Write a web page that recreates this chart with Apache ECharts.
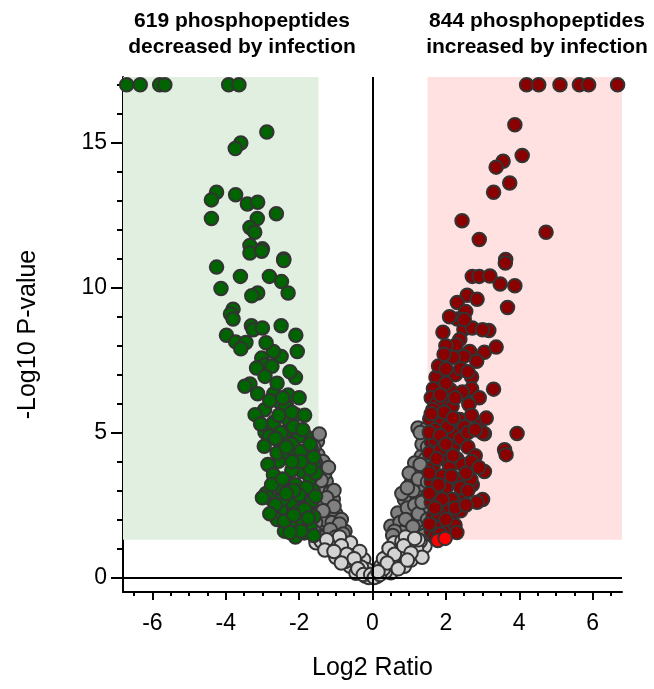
<!DOCTYPE html>
<html>
<head>
<meta charset="utf-8">
<script src="https://cdn.jsdelivr.net/npm/echarts@6/dist/echarts.min.js"></script>
<style>html,body{margin:0;padding:0;background:#fff;}#c{width:654px;height:689px;}</style>
</head>
<body>
<div id="c"></div>
<script>
const titleLeft = '619 phosphopeptides\ndecreased by infection';
const titleRight = '844 phosphopeptides\nincreased by infection';
const xTicks = [-6, -4, -2, 0, 2, 4, 6];
const xMinorTicks = [-6.5,-6,-5.5,-5,-4.5,-4,-3.5,-3,-2.5,-2,-1.5,-1,-0.5,0,0.5,1,1.5,2,2.5,3,3.5,4,4.5,5,5.5,6,6.5];
const yTicks = [0, 5, 10, 15];
const yMinorTicks = [0,1,2,3,4,5,6,7,8,9,10,11,12,13,14,15,16,17];
const xRange = [-6.8, 6.8];
const yRange = [-0.5, 17.27];
const pThreshold = 1.3;
const ratioDown = -1.47;
const ratioUp = 1.5;

const greenPoints = [
[-6.70,17],[-6.33,17],[-5.80,17],[-5.66,17],[-3.92,17],[-3.64,17],
[-2.88,15.37],[-3.59,14.99],[-3.74,14.80],[-4.25,13.29],[-4.39,13.03],[-3.73,13.21],[-3.41,12.89],[-3.13,12.95],
[-4.39,12.39],[-3.14,12.39],[-2.62,12.55],[-3.34,12.08],[-3.21,11.91],[-3.34,11.46],[-3.0,11.34],[-3.34,11.2],
[-2.42,10.99],[-3.02,11.26],[-2.42,10.94],[-4.25,10.71],[-3.60,10.39],[-2.81,10.39],[-2.48,10.21],[-4.13,9.97],
[-3.13,9.82],[-3.29,9.72],[-2.30,9.82],[-3.80,9.26],[-3.87,9.09],[-3.80,8.92],[-3.30,8.69],[-3.25,8.55],[-3.0,8.61],
[-2.49,8.69],[-2.09,8.36],[-3.98,8.36],[-3.73,8.13],[-3.45,8.11],[-3.59,7.89],[-2.05,7.80],[-2.49,7.63],[-3.02,7.57],
[-2.93,7.34],[-2.74,7.29],[-3.16,7.23],[-2.93,6.94],[-3.34,6.68],[-3.48,6.60],[-3.13,6.34],[-2.69,6.34],[-2.56,6.08],
[-2.35,5.94],[-2.94,5.79],[-3.20,5.62],[-2.09,5.62],[-2.69,5.36],[-2.30,5.45],[-2.93,5.01],[-2.37,5.01],[-2.03,4.93],
[-1.81,4.87],[-2.81,4.87],[-2.42,4.70],[-2.95,4.53],[-1.67,4.44],
[-2.69,5.33],[-2.37,5.91],[-2.0,4.87],[-2.56,4.01],[-2.05,4.01],[-1.91,3.66],[-2.37,3.38],[-2.74,2.69],[-2.32,2.17],
[-1.91,2.80],[-2.05,1.71],[-1.86,1.54],
[-2.2,4.6],[-1.75,4.2],[-1.6,3.9],[-2.6,4.3],[-2.85,3.9],[-2.2,3.7],[-1.7,3.4],[-2.5,3.1],[-2.1,3.2],[-1.62,3.0],
[-2.9,2.9],[-2.2,2.6],[-1.75,2.5],[-2.5,2.3],[-2.0,2.3],[-1.6,2.1],[-2.25,1.9],[-1.7,1.75],[-2.4,1.6],[-1.6,1.45],
[-2.1,1.4],[-1.9,1.95],[-2.6,2.0],[-3.0,2.75],[-1.8,3.1],[-2.3,4.3],[-1.95,4.35],[-2.7,3.55],[-2.0,2.85],[-1.65,2.65],
[-2.15,5.2],[-2.55,5.6],[-2.8,6.1],[-2.6,6.7],[-2.3,6.3],[-2.1,6.9],[-2.7,7.8],[-2.9,8.1],[-2.25,7.1],
[-2.45,2.7],[-2.75,3.2],[-2.15,3.0],[-1.85,2.35],[-2.35,2.9],[-1.55,2.8],[-1.55,3.6],[-1.7,4.6],[-1.9,5.1],[-2.5,5.0],
[-2.2,5.7],[-2.45,6.2],[-2.0,6.2],[-1.85,5.6],[-2.65,4.8],[-3.05,5.3],[-2.4,1.95],[-1.95,1.6],[-2.25,1.55],[-1.75,2.05],
[-2.15,2.15],[-2.65,2.5],[-2.8,2.2],[-1.7,3.75],[-1.95,4.0],[-2.45,3.4],[-2.2,4.0],[-2.35,4.5],[-1.6,4.15]
];

const redPoints = [
[4.20,17],[4.53,17],[5.11,17],[5.64,17],[5.89,17],[6.68,17],
[3.88,15.62],[4.08,14.56],[3.56,14.36],[3.37,14.16],[3.74,13.61],[3.30,13.29],[2.44,12.31],[4.73,11.91],[2.91,11.66],
[3.63,10.97],[3.62,10.85],[2.72,10.39],[2.91,10.39],[3.48,10.13],[3.88,10.07],[2.58,9.74],[2.31,9.49],[2.54,9.18],
[3.68,9.32],[2.31,8.92],[2.49,8.57],[2.72,8.61],[3.17,8.52],[3.0,8.55],[1.92,8.46],[2.38,8.21],[2.28,8.03],[2.65,7.80],
[3.05,7.77],[3.37,7.95],[2.49,7.63],[2.84,7.46],[1.73,6.91],[2.26,7.0],[2.70,6.92],[1.66,6.51],[2.12,6.48],[2.70,6.51],
[2.91,6.20],[2.01,6.08],[2.63,6.0],[1.56,5.47],[2.38,5.45],[2.91,5.31],[1.89,5.33],[2.19,4.99],[3.05,4.96],[3.94,4.97],
[1.61,4.67],[3.60,4.41],[3.64,4.24],[3.0,2.69],[2.72,3.2],[2.3,4.1],[2.17,5.91],[2.63,5.97],[3.0,4.99],[3.05,3.66],
[2.68,3.38],[2.35,2.69],[2.17,2.11],[1.89,1.77],[1.98,4.07],[1.70,4.76],[2.21,4.53],[2.35,5.45],
[1.6,6.2],[1.75,6.0],[2.0,6.7],[2.45,6.4],[1.65,5.8],[1.95,5.7],[2.5,5.2],[2.7,5.6],[1.7,5.1],[2.05,5.2],[2.4,4.8],
[2.6,4.5],[1.55,4.3],[1.85,4.4],[2.1,3.8],[2.45,3.9],[1.65,3.8],[1.9,3.5],[2.3,3.4],[1.6,3.3],[2.0,3.1],[2.5,2.9],
[1.75,2.9],[2.15,2.7],[1.6,2.6],[1.95,2.4],[1.65,2.1],[2.4,2.3],[1.8,2.2],[1.6,1.6],[2.05,1.6],[2.25,1.8],[1.7,1.4],
[2.8,4.2],[2.55,3.6],[2.85,2.6],[3.1,5.5],[1.8,7.3],[2.2,7.6],[2.0,8.0],[2.5,8.9],[2.1,9.0],[2.85,9.6],[3.2,10.4],
[1.55,5.0],[1.85,4.9],[2.0,4.6],[1.75,4.1],[2.2,4.2],[1.55,3.6],[1.8,3.2],[2.15,3.5],[2.4,3.1],[1.55,2.9],[1.9,2.7],
[2.25,2.4],[1.7,2.4],[2.0,2.0],[1.55,1.85],[1.85,1.5],[2.3,1.55],[2.55,2.5],[2.6,3.0],[2.7,4.0],[2.9,3.8],[2.6,5.0],
[2.8,5.1],[1.6,5.65],[1.85,6.3],[2.25,6.2],[2.0,7.2],[2.4,7.2],[1.95,7.7],[2.6,7.1],[3.3,6.5],[2.2,5.5]
];

const grayPoints = [
[-1.49,4.24],[-1.44,3.72],[-1.26,3.32],[-1.49,2.80],[-1.07,2.69],[-1.17,2.11],[-0.89,1.71],[-1.54,2.34],[-0.75,1.60],
[-1.40,1.77],[-1.5,4.7],[-1.35,3.0],[-1.2,2.5],[-1.0,2.2],[-1.3,2.0],[-1.55,3.3],[-1.1,1.9],[-0.95,1.45],[-1.25,1.5],
[-1.45,1.4],[-1.35,4.0],[-1.15,2.95],[-1.4,2.5],[-0.85,2.0],[-1.55,1.9],[-1.3,3.6],[-1.05,3.0],
[-1.6,4.5],[-1.45,4.95],[-1.55,3.95],[-1.4,3.35],[-1.2,3.8],[-1.25,2.75],[-1.05,2.45],[-0.9,1.85],[-1.15,1.65],
[-1.35,2.3],[-0.8,1.5],[-1.0,1.4],[-1.6,1.6],
[1.24,5.16],[1.33,4.18],[1.15,3.95],[1.43,3.49],[1.06,3.27],[0.87,2.69],[1.24,2.80],[0.69,2.23],[1.06,2.11],
[1.43,2.46],[0.87,1.66],[1.33,1.77],[0.5,1.77],[1.47,5.13],[1.35,4.6],[1.2,3.6],[1.45,4.1],[0.95,2.4],[1.15,2.5],
[0.75,1.9],[1.25,2.2],[1.0,1.6],[0.65,1.5],[1.4,3.0],[1.3,3.2],[1.1,3.0],[1.45,1.6],[1.2,1.45],[0.8,2.9],[1.0,3.6],
[1.3,5.0],[1.5,4.5],[1.4,3.8],[1.25,3.4],[1.5,2.8],[1.35,2.6],[0.9,2.0],[0.8,1.55],[0.6,1.6],[1.1,1.75],[1.5,2.0],
[1.4,1.45],[0.95,3.1],[1.3,3.9],[1.5,3.3],[0.55,1.45]
];

const lightGrayPoints = [
[-1.54,1.2],[-1.26,1.08],[-0.89,0.74],[-0.61,0.39],[-0.33,0.16],[-1.07,1.2],[-0.70,1.08],[-0.24,0.62],[-0.52,0.85],
[-0.15,0.28],[-1.4,1.25],[-1.15,0.95],[-0.95,1.25],[-0.8,0.9],[-0.6,1.2],[-0.45,0.5],[-0.75,0.55],[-1.0,0.7],
[-0.35,0.9],[-0.2,0.05],[-0.1,0.0],[-0.45,0.15],[-0.6,0.7],[-0.3,0.35],[-0.9,1.4],
[-1.25,1.3],[-1.3,0.95],[-0.85,1.1],[-0.7,0.8],[-0.5,0.65],[-0.4,0.3],[-0.85,0.5],[-1.05,0.9],[-0.25,0.1],[-0.05,0.1],
[0.22,0.39],[0.41,0.74],[0.69,1.08],[0.96,0.97],[1.24,0.85],[0.87,0.39],[0.5,0.16],[0.13,0.04],[1.43,1.08],[0.59,1.2],
[0.3,0.65],[0.45,1.0],[0.8,1.25],[1.1,1.2],[1.3,1.25],[0.65,0.55],[1.05,0.6],[0.35,0.2],[0.05,0.0],[0.2,0.1],
[0.75,0.8],[1.2,1.0],[0.9,1.4],[0.55,0.45],[1.35,0.7],
[0.3,0.3],[0.6,0.8],[0.85,1.1],[1.05,0.85],[1.25,1.3],[0.4,0.5],[0.7,0.3],[1.15,1.35],[0.95,0.6],[0.15,0.2]
];

const brightRedPoints = [[1.78,1.28],[1.98,1.35]];

const FONT = '"Liberation Sans", Arial, sans-serif';
const chart = echarts.init(document.getElementById('c'), null, {renderer: 'canvas'});

function scatter(name, data, color, z) {
  return {
    name: name, type: 'scatter', data: data, z: z,
    symbol: 'circle', symbolSize: 13.5,
    itemStyle: {color: color, borderColor: '#333333', borderWidth: 2, opacity: 1},
    emphasis: {disabled: true}, silent: true, animation: false
  };
}

const axisLabelStyle = {color: '#000', fontFamily: FONT, fontSize: 23};

chart.setOption({
  animation: false,
  backgroundColor: '#ffffff',
  grid: {left: 123, right: 32, top: 77, bottom: 97, containLabel: false},
  xAxis: [{
    type: 'value', min: xRange[0], max: xRange[1], position: 'bottom',
    axisLine: {show: true, onZero: false, lineStyle: {color: '#000', width: 2}},
    axisTick: {show: true, length: 8, lineStyle: {color: '#000', width: 2}, customValues: xTicks},
    axisLabel: Object.assign({margin: 20, customValues: xTicks}, axisLabelStyle),
    splitLine: {show: false},
    name: 'Log2 Ratio', nameLocation: 'middle', nameGap: 64,
    nameTextStyle: {color: '#000', fontFamily: FONT, fontSize: 25}
  }, {
    type: 'value', min: xRange[0], max: xRange[1], position: 'bottom',
    axisLine: {show: false, onZero: false},
    axisTick: {show: true, length: 4, lineStyle: {color: '#000', width: 2}, customValues: xMinorTicks},
    axisLabel: {show: false}, splitLine: {show: false}
  }],
  yAxis: [{
    type: 'value', min: yRange[0], max: yRange[1], position: 'left',
    axisLine: {show: true, onZero: false, lineStyle: {color: '#000', width: 2}},
    axisTick: {show: true, length: 12, lineStyle: {color: '#000', width: 2}, customValues: yTicks},
    axisLabel: Object.assign({margin: 16, customValues: yTicks}, axisLabelStyle),
    splitLine: {show: false},
    name: '-Log10 P-value', nameLocation: 'middle', nameGap: 82, nameRotate: 90,
    nameTextStyle: {color: '#000', fontFamily: FONT, fontSize: 25}
  }, {
    type: 'value', min: yRange[0], max: yRange[1], position: 'left',
    axisLine: {show: false, onZero: false},
    axisTick: {show: true, length: 6, lineStyle: {color: '#000', width: 2}, customValues: yMinorTicks},
    axisLabel: {show: false}, splitLine: {show: false}
  }],
  graphic: [
    {type: 'text', x: 242, y: 8, z: 100, style: {text: titleLeft, textAlign: 'center', fill: '#000', font: 'bold 21px ' + FONT, lineHeight: 26}},
    {type: 'text', x: 537, y: 8, z: 100, style: {text: titleRight, textAlign: 'center', fill: '#000', font: 'bold 21px ' + FONT, lineHeight: 26}}
  ],
  series: [
    {
      type: 'scatter', data: [], z: 1, silent: true,
      markArea: {
        silent: true,
        data: [
          [{coord: [xRange[0], pThreshold], itemStyle: {color: '#e0efe0'}}, {coord: [ratioDown, yRange[1]]}],
          [{coord: [ratioUp, pThreshold], itemStyle: {color: '#ffe1e1'}}, {coord: [xRange[1], yRange[1]]}]
        ]
      }
    },
    scatter('gray', grayPoints, '#808080', 3),
    scatter('lightgray', lightGrayPoints, '#d3d3d3', 4),
    scatter('green', greenPoints, '#006400', 5),
    scatter('red', redPoints, '#8b0000', 6),
    scatter('brightred', brightRedPoints, '#ff0000', 7),
    {
      type: 'scatter', data: [], z: 10, silent: true,
      markLine: {
        silent: true, symbol: ['none', 'none'], animation: false,
        label: {show: false},
        lineStyle: {color: '#000', width: 2, type: 'solid'},
        data: [{xAxis: 0}, {yAxis: 0}]
      }
    }
  ]
});
</script>
</body>
</html>
